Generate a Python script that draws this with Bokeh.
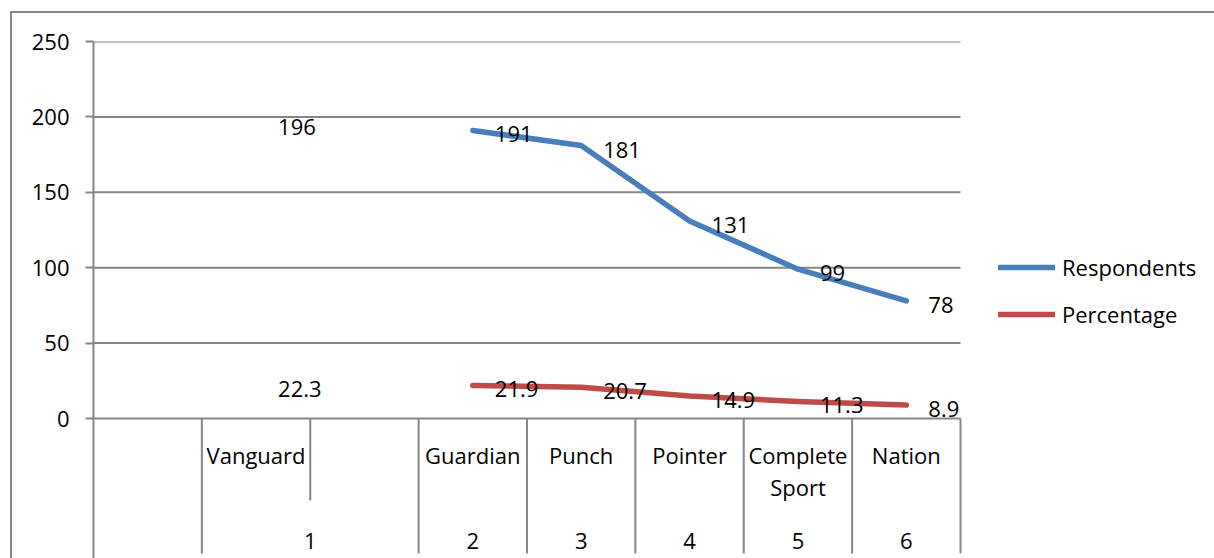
from bokeh.plotting import figure
from bokeh.models import Range1d, FixedTicker, Legend, LegendItem, ColumnDataSource
from bokeh.core.properties import value
from bokeh.embed import file_html
from bokeh.resources import INLINE

# ---- data (rows of the source sheet, incl. blank rows) ----
outlet_labels = ["", "Vanguard", "", "Guardian", "Punch", "Pointer", "Complete\nSport", "Nation"]
rank_labels = ["", "1", "1", "2", "3", "4", "5", "6"]
respondents = [None, 196, None, 191, 181, 131, 99, 78]
percentage = [None, 22.3, None, 21.9, 20.7, 14.9, 11.3, 8.9]
y_ticks = [0, 50, 100, 150, 200, 250]

# ---- style ----
FONT = "Open Sans"
FS = "22px"
GRID = "#868686"
BLUE = "#4A7EBB"
RED = "#BE4B48"

W, H = 1214, 558
LEFT, TOP, RIGHT_EDGE, ZERO_Y = 93, 41, 960, 418
PX_PER_UNIT = (ZERO_Y - TOP) / 250.0
Y_BOTTOM = -(H - ZERO_Y) / PX_PER_UNIT


def below(px):
    """data value located px pixels below the zero line"""
    return -px / PX_PER_UNIT


n = len(outlet_labels)
centers = [i + 0.5 for i in range(n)]
x_end = n * (W - LEFT) / (RIGHT_EDGE - LEFT)   # frame extends to the right edge

p = figure(width=W, height=H, output_backend="svg", toolbar_location=None,
           x_range=Range1d(0, x_end), y_range=Range1d(Y_BOTTOM, 250),
           x_axis_location=None,
           min_border_left=LEFT, min_border_right=0, min_border_top=TOP,
           min_border_bottom=0, border_fill_color=None,
           background_fill_color=None, outline_line_color=None)

p.styles = {
    "background-image": "linear-gradient(#868686,#868686), linear-gradient(#868686,#868686)",
    "background-size": "2px 100%, 100% 2px",
    "background-position": "10px 11px, 10px 11px",
    "background-repeat": "no-repeat",
}

ax = p.yaxis[0]
ax.ticker = FixedTicker(ticks=y_ticks)
ax.major_label_text_font = FONT
ax.major_label_text_font_size = FS
ax.major_label_text_color = "black"
ax.major_label_standoff = 16
ax.major_tick_out = 8
ax.major_tick_in = 0
ax.minor_tick_out = 0
ax.minor_tick_in = 0
ax.axis_line_color = GRID
ax.axis_line_width = 2
ax.major_tick_line_color = GRID
ax.major_tick_line_width = 2

p.xgrid.visible = False
p.ygrid.visible = False
# horizontal gridlines across the category slots only
p.segment(x0=[0] * len(y_ticks), y0=y_ticks, x1=[n] * len(y_ticks), y1=y_ticks,
          line_color=GRID, line_width=2)

# ---- category table below the zero line ----
bx, by1 = [], []
for k in range(1, n + 1):
    full = (k == n) or (rank_labels[k] != rank_labels[k - 1])
    bx.append(k)
    by1.append(below(135) if full else below(82))
p.segment(x0=bx, y0=[0] * len(bx), x1=bx, y1=by1, line_color=GRID, line_width=2)

# outlet names
p.text(x=centers, y=[below(21)] * n, text=outlet_labels,
       text_font=value(FONT), text_font_size=FS, text_align="center",
       text_baseline="top", text_line_height=1.08, text_color="black")

# rank groups (merge consecutive equal labels)
gx, gt = [], []
start = 0
for k in range(1, n + 1):
    if k == n or rank_labels[k] != rank_labels[start]:
        gx.append((start + k) / 2.0)
        gt.append(rank_labels[start])
        start = k
p.text(x=gx, y=[below(122)] * len(gx), text=gt,
       text_font=value(FONT), text_font_size=FS, text_align="center",
       text_baseline="middle", text_color="black")

# ---- series ----
nan = float("nan")
src = ColumnDataSource(dict(
    x=centers,
    resp=[nan if v is None else v for v in respondents],
    pct=[nan if v is None else v for v in percentage],
))
r1 = p.line("x", "resp", source=src, line_color=BLUE, line_width=5.5,
            line_cap="round", line_join="round")
r2 = p.line("x", "pct", source=src, line_color=RED, line_width=5.5,
            line_cap="round", line_join="round")

for vals in (respondents, percentage):
    xs = [c for c, v in zip(centers, vals) if v is not None]
    ys = [v for v in vals if v is not None]
    p.text(x=xs, y=ys, text=[f"{v:g}" for v in ys], x_offset=22, y_offset=4,
           text_font=value(FONT), text_font_size=FS, text_align="left",
           text_baseline="middle", text_color="black")

legend = Legend(items=[LegendItem(label="Respondents", renderers=[r1]),
                       LegendItem(label="Percentage", renderers=[r2])],
                location=(905, H - 329), padding=3, margin=0,
                glyph_width=57, glyph_height=30, label_height=30, spacing=17,
                label_standoff=7, label_text_font=FONT, label_text_font_size=FS,
                label_text_color="black",
                border_line_color=None, background_fill_color=None)
p.add_layout(legend, "center")

open("out.html", "w").write(file_html(p, INLINE))
